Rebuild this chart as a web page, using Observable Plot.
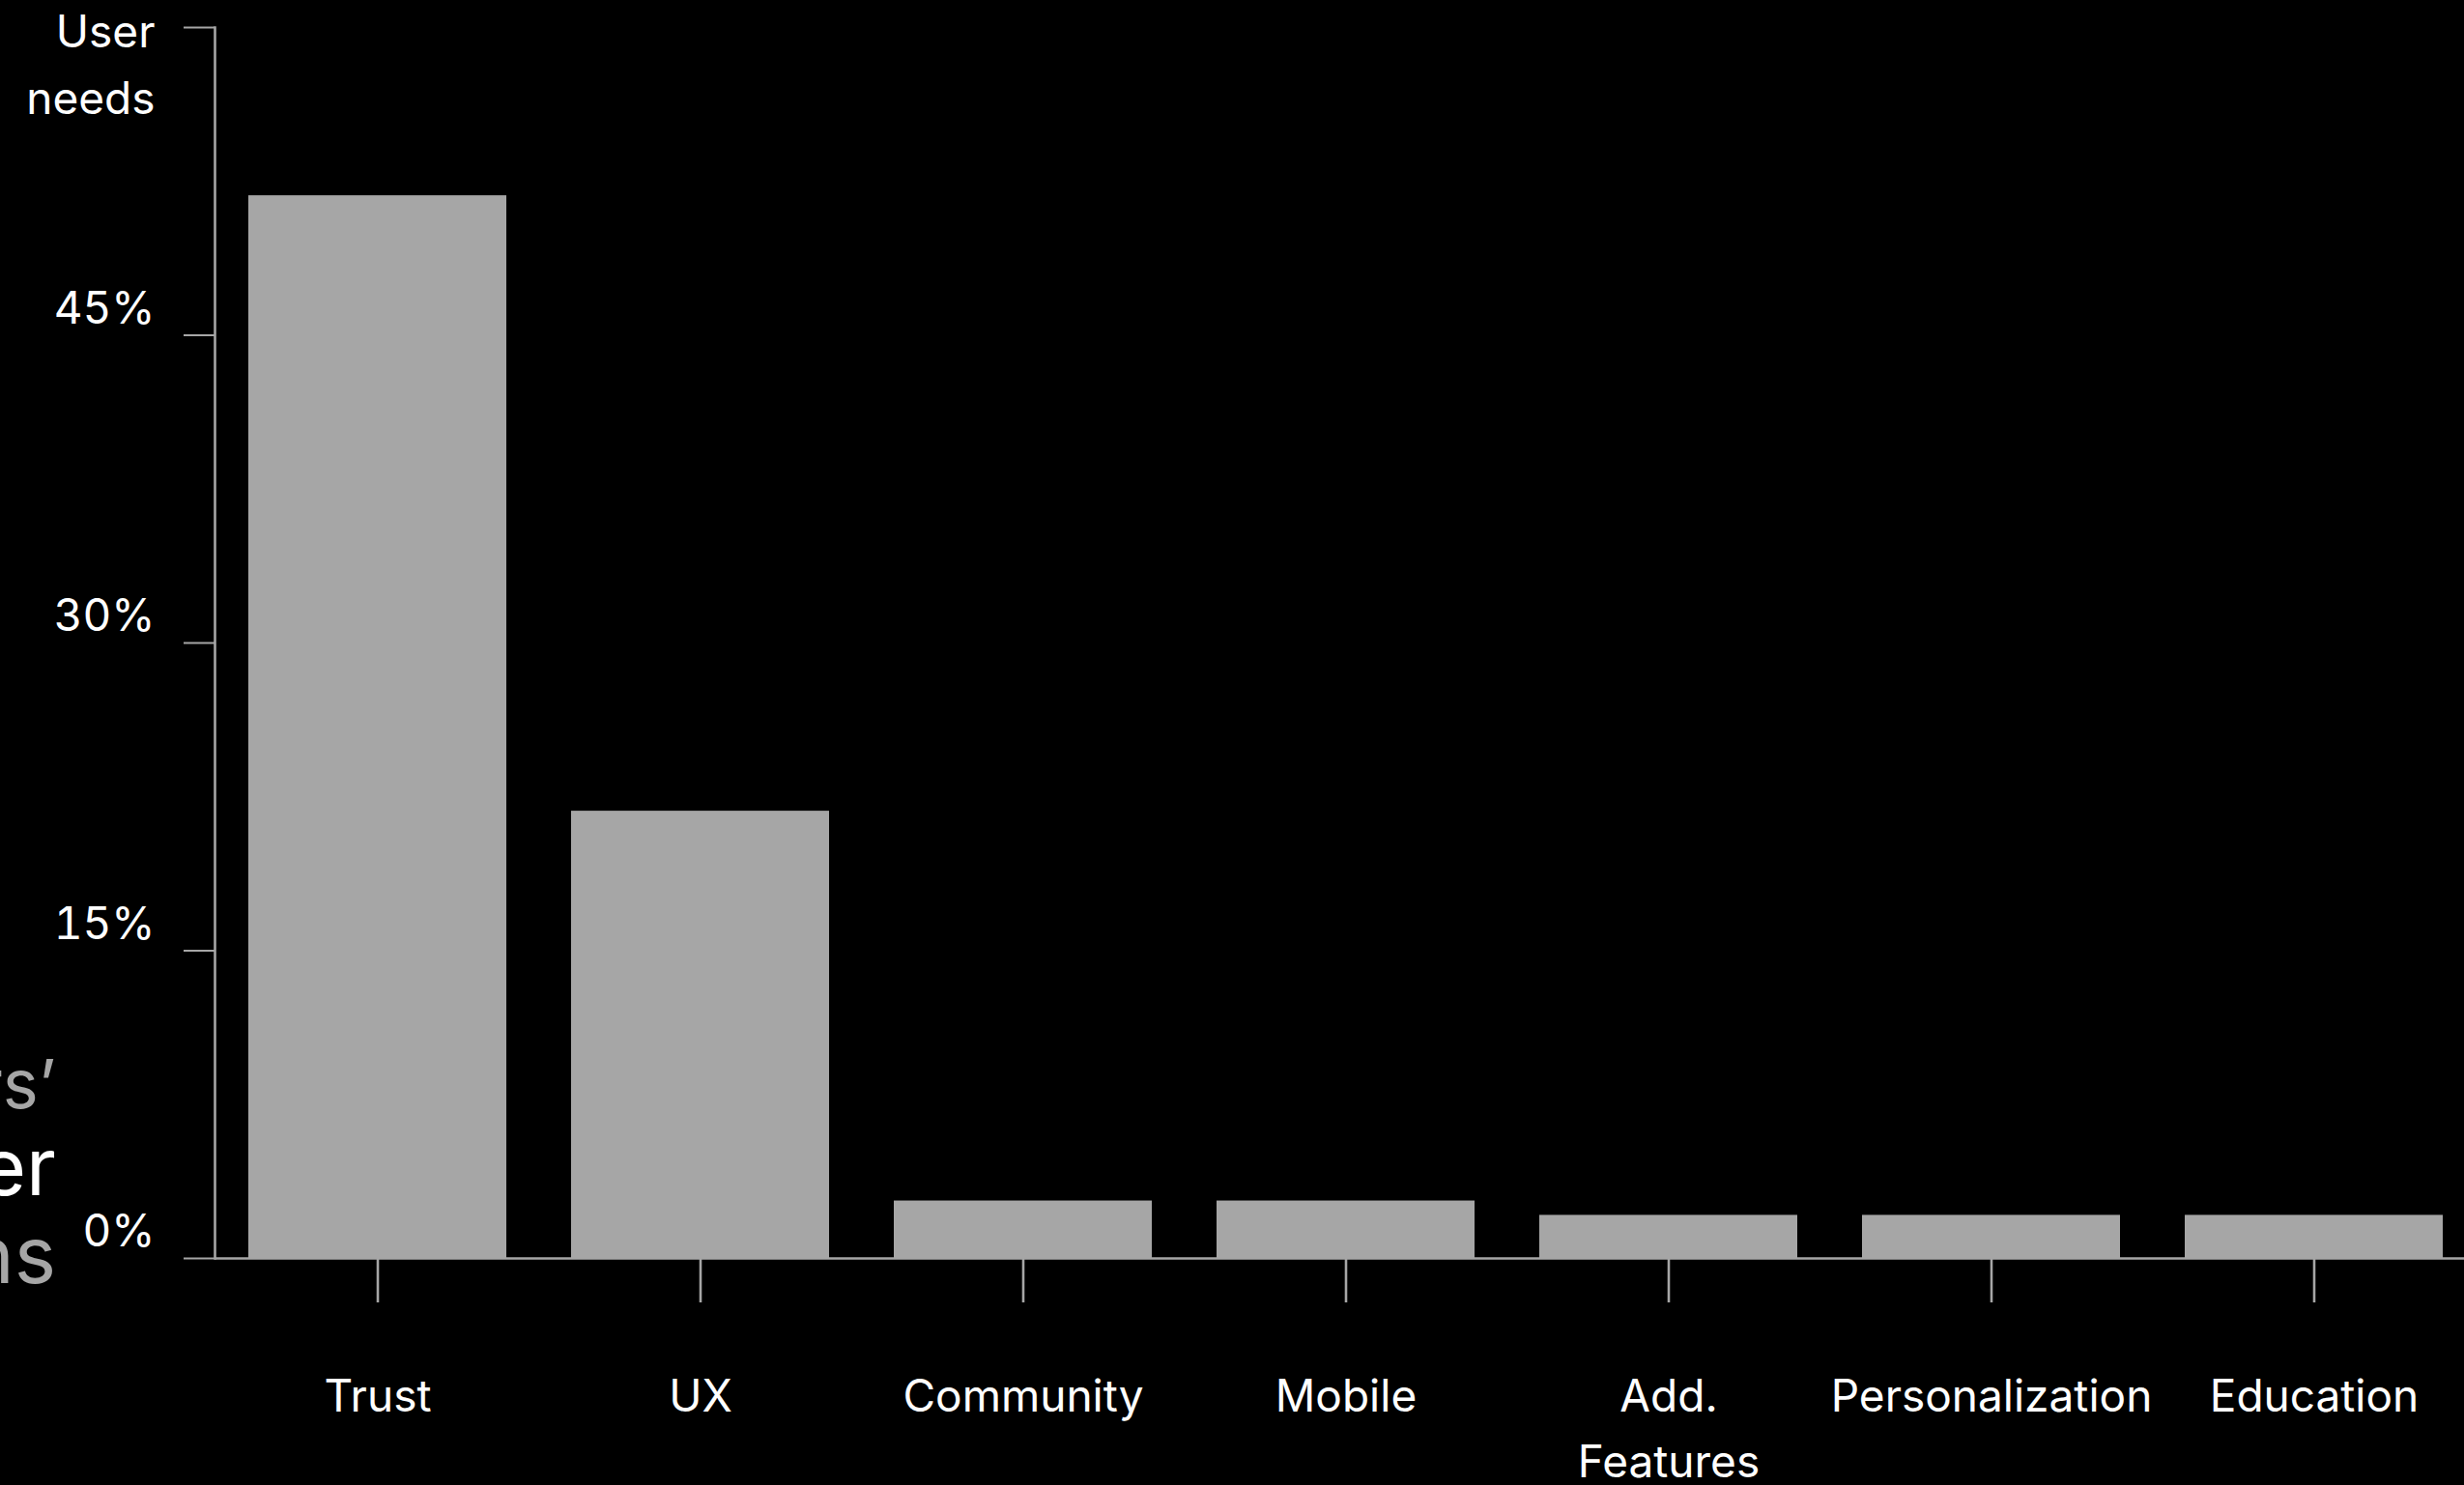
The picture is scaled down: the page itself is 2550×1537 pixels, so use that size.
<!DOCTYPE html>
<html>
<head>
<meta charset="utf-8">
<script src="https://cdn.jsdelivr.net/npm/d3@7"></script>
<script src="https://cdn.jsdelivr.net/npm/@observablehq/plot@0.6"></script>
<style>
  html, body { margin: 0; padding: 0; background: #000; overflow: hidden; }
  #wrap { position: relative; width: 2550px; height: 1537px; background: #000; }
  #chart { position: absolute; left: 0; top: 0; }
  #title { position: absolute; left: 0; top: 0; }
</style>
</head>
<body>
<div id="wrap">
  <div id="chart"></div>
  <svg id="title" width="200" height="1537"></svg>
</div>
<script>
// ---- data ----
const categories = ["Trust", "UX", "Community", "Mobile", "Add.\nFeatures", "Personalization", "Education"];
const shares = [51.8, 21.8, 2.8, 2.8, 2.1, 2.1, 2.1];
const yTicks = [0, 15, 30, 45, 60];
const yAxisLabel = "User\nneeds";
const titleFragments = ["rs’", "er", "ns"];

// ---- styles ----
const gray = "#a6a6a6";
const white = "#ffffff";
const font = "Inter, 'Noto Sans', sans-serif";

const data = categories.map((category, i) => ({category, share: shares[i]}));

const chart = Plot.plot({
  width: 2550,
  height: 1537,
  marginTop: 28,
  marginBottom: 235,
  marginLeft: 222,
  marginRight: 0,
  style: {background: "#000", color: white, fontFamily: font, fontSize: "46px"},
  x: {domain: categories, range: [222, 2563], paddingInner: 0.2, paddingOuter: 0.1, label: null},
  y: {domain: [0, 60], label: null},
  marks: [
    Plot.barY(data, {x: "category", y: "share", fill: gray}),
    Plot.frame({anchor: "left", stroke: gray, strokeWidth: 2.6}),
    Plot.ruleY([0], {stroke: gray, strokeWidth: 2.6}),
    // y ticks (marks only)
    Plot.axisY({ticks: yTicks, tickSize: 32, stroke: gray, strokeWidth: 2, fill: null, label: null}),
    // y tick labels, sitting just above their tick
    Plot.axisY({ticks: yTicks, tickSize: 0, tickPadding: 62, dy: -27, fill: white,
      tickFormat: d => d === 60 ? "" : d + "%", label: null}),
    // x axis
    Plot.axisX({tickSize: 46, tickPadding: 64, stroke: gray, strokeWidth: 2.6, fill: white,
      lineHeight: 1.48, label: null}),
    // y axis title at the top
    Plot.text([yAxisLabel], {text: d => d, frameAnchor: "top-left", textAnchor: "end", lineAnchor: "top",
      lineHeight: 1.5, dx: -62, dy: -28, fill: white})
  ]
});
document.getElementById("chart").appendChild(chart);

// partially visible title on the far left
const fragColors = [gray, white, gray];
const fragSizes = [70, 82, 82];
const fragBaselines = [1147, 1237, 1328];
const tsvg = d3.select("#title");
tsvg.selectAll("text")
  .data(titleFragments)
  .join("text")
  .attr("x", 58)
  .attr("y", (d, i) => fragBaselines[i])
  .attr("text-anchor", "end")
  .attr("font-family", font)
  .attr("font-size", (d, i) => fragSizes[i])
  .attr("fill", (d, i) => fragColors[i])
  .text(d => d);
</script>
</body>
</html>
